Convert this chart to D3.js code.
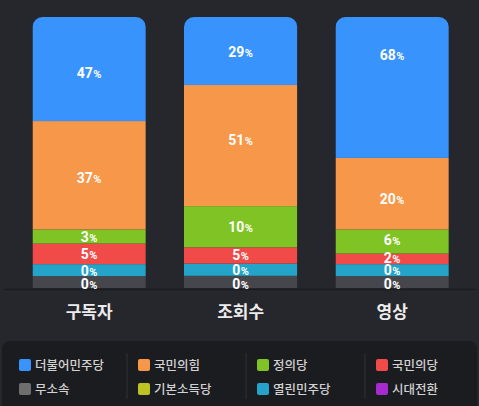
<!DOCTYPE html>
<html>
<head>
<meta charset="utf-8">
<script src="https://cdn.jsdelivr.net/npm/d3@7"></script>
<style>
  body { margin: 0; background: #26272c; }
  svg { display: block; }
</style>
</head>
<body>
<div id="chart"></div>
<script>
// categories on the x axis
const categories = ["구독자", "조회수", "영상"];

// parties, top of the stack first
const parties = ["더불어민주당", "국민의힘", "정의당", "국민의당", "열린민주당", "무소속"];
const partyColors = ["#3893fd", "#f69749", "#7fc424", "#f04b49", "#24a4c8", "#46474c"];

// percentages printed on each segment
const shownPct = {
  "구독자": [47, 37, 3, 5, 0, 0],
  "조회수": [29, 51, 10, 5, 0, 0],
  "영상": [68, 20, 6, 2, 0, 0]
};

// drawn height of each segment, as share of the bar
const segShare = {
  "구독자": [38.4, 40.0, 5.2, 7.6, 4.4, 4.4],
  "조회수": [25.1, 44.7, 15.2, 6.0, 4.5, 4.5],
  "영상": [52.0, 26.4, 8.9, 3.9, 4.4, 4.4]
};

// where each label sits, measured from the bottom of the bar (same units)
const labelAt = {
  "구독자": [79.3, 40.7, 18.9, 12.4, 6.4, 1.5],
  "조회수": [87.1, 54.6, 22.4, 12.3, 6.5, 1.5],
  "영상": [86.0, 32.8, 17.7, 11.1, 6.5, 1.5]
};

// legend (two rows, four columns)
const legendNames = ["더불어민주당", "국민의힘", "정의당", "국민의당", "무소속", "기본소득당", "열린민주당", "시대전환"];
const legendColors = ["#3893fd", "#f69749", "#7fc424", "#f04b49", "#6e6e6e", "#bcc424", "#24a4c8", "#a62ad0"];

const W = 479, H = 406;

const svg = d3.select("#chart").append("svg")
  .attr("width", W)
  .attr("height", H);

const x = d3.scaleBand()
  .domain(categories)
  .range([13.4, 467.9])
  .paddingInner(0.252)
  .paddingOuter(0.126);

const y = d3.scaleLinear()
  .domain([0, 100])
  .range([288, 17]);

// stack from the bottom: reverse party order
const rows = categories.map(c => {
  const r = { cat: c };
  parties.forEach((p, i) => r[p] = segShare[c][i]);
  return r;
});
const stack = d3.stack().keys(parties.slice().reverse());
const series = stack(rows);

// rounded top corners
const defs = svg.append("defs");
categories.forEach((c, i) => {
  defs.append("clipPath").attr("id", "clip" + i)
    .append("rect")
      .attr("x", x(c))
      .attr("y", y(100))
      .attr("width", x.bandwidth())
      .attr("height", y(0) - y(100) + 20)
      .attr("rx", 10);
});

const bars = svg.append("g");
categories.forEach((c, ci) => {
  const g = bars.append("g").attr("clip-path", "url(#clip" + ci + ")");
  series.forEach(s => {
    const d = s[ci];
    g.append("rect")
      .attr("x", x(c))
      .attr("y", y(d[1]))
      .attr("width", x.bandwidth())
      .attr("height", y(d[0]) - y(d[1]))
      .attr("fill", partyColors[parties.indexOf(s.key)]);
  });
});

// baseline
svg.append("line")
  .attr("x1", 4).attr("x2", 476)
  .attr("y1", y(0) + 1.5).attr("y2", y(0) + 1.5)
  .attr("stroke", "#1c1d21")
  .attr("stroke-width", 1.5);

// segment labels
const labels = svg.append("g")
  .attr("font-family", "Roboto, 'Noto Sans CJK KR', sans-serif")
  .attr("font-weight", 700)
  .attr("fill", "#ffffff")
  .attr("text-anchor", "middle");

categories.forEach(c => {
  parties.forEach((p, i) => {
    const t = labels.append("text")
      .attr("x", x(c) + x.bandwidth() / 2)
      .attr("y", y(labelAt[c][i]))
      .attr("dy", "0.36em")
      .attr("font-size", 14);
    t.append("tspan").text(shownPct[c][i]);
    t.append("tspan").attr("font-size", 11).attr("dx", 0.5).text("%");
  });
});

// category labels
svg.append("g")
  .selectAll("text")
  .data(categories)
  .join("text")
    .attr("x", d => x(d) + x.bandwidth() / 2)
    .attr("y", 312)
    .attr("dy", "0.36em")
    .attr("text-anchor", "middle")
    .attr("font-family", "'Noto Sans CJK KR', sans-serif")
    .attr("font-weight", 700)
    .attr("font-size", 17)
    .attr("fill", "#ececec")
    .text(d => d);

// legend panel
svg.append("rect")
  .attr("x", 2).attr("y", 341)
  .attr("width", W - 4).attr("height", 80)
  .attr("rx", 8)
  .attr("fill", "#1b1c1f");

const colX = d3.scalePoint().domain([0, 1, 2, 3]).range([19, 376]);
const rowY = d3.scalePoint().domain([0, 1]).range([365, 389]);

const lg = svg.append("g");
[1, 2, 3].forEach(i => {
  lg.append("line")
    .attr("x1", colX(i) - 11).attr("x2", colX(i) - 11)
    .attr("y1", 353).attr("y2", 399)
    .attr("stroke", "#2f3035")
    .attr("stroke-width", 1);
});

const item = lg.selectAll("g.item")
  .data(legendNames)
  .join("g")
    .attr("class", "item")
    .attr("transform", (d, i) => "translate(" + colX(i % 4) + "," + rowY(Math.floor(i / 4)) + ")");

item.append("rect")
  .attr("x", 0).attr("y", -6)
  .attr("width", 12).attr("height", 12)
  .attr("rx", 2)
  .attr("fill", (d, i) => legendColors[i]);

item.append("text")
  .attr("x", 16)
  .attr("dy", "0.36em")
  .attr("font-family", "'Noto Sans CJK KR', sans-serif")
  .attr("font-size", 12.5)
  .attr("font-weight", 500)
  .attr("fill", "#d2d2d2")
  .text(d => d);
</script>
</body>
</html>
